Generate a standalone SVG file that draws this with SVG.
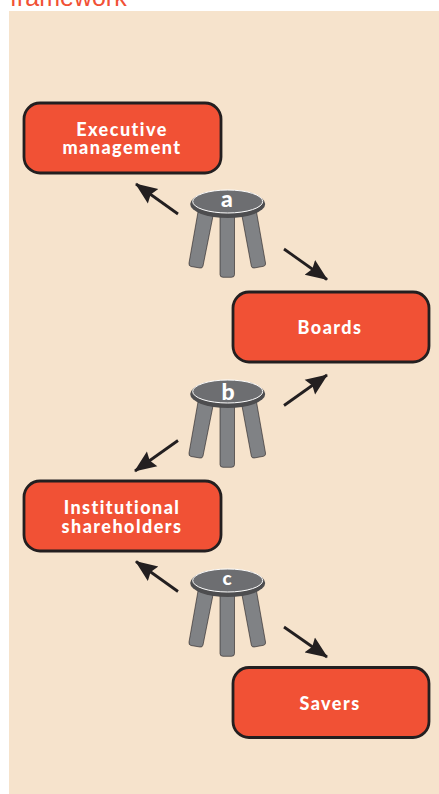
<svg xmlns="http://www.w3.org/2000/svg" width="439" height="794" viewBox="0 0 439 794">
<style>
.box{fill:#f15135;stroke:#231f20;stroke-width:2.8}
.lbl{font-family:Lato,"Noto Sans",sans-serif;font-weight:900;font-size:18px;fill:#fff;text-anchor:middle;letter-spacing:1.45px}
.ltr{font-family:Lato,"Noto Sans",sans-serif;font-weight:900;fill:#fff;text-anchor:middle;font-size:23px}
.leg{fill:#808285;stroke:#231f20;stroke-width:.6;stroke-linejoin:round}
.arr{stroke:#231f20;stroke-width:2.8;fill:none;marker-end:url(#ah)}
</style>
<defs>
<marker id="ah" viewBox="0 0 22 20" refX="21" refY="10" markerUnits="userSpaceOnUse" markerWidth="22" markerHeight="20" orient="auto"><path d="M0 1L22 10L0 19L3 10Z" fill="#231f20"/></marker>
<g id="stool">
<path class="leg" d="M198 212L213 216L203 266Q202.500 268.500 200 268L191 266.500Q188.500 266 189 263Z"/>
<path class="leg" d="M242 216L256.500 212L265.500 263Q266 265.800 263.500 266.300L254 268Q251.800 268.300 251.300 266Z"/>
<path class="leg" d="M220 214H234.500V274.500Q234.500 277.300 231.500 277.300H223Q220 277.300 220 274.500Z"/>
<ellipse cx="227.700" cy="204" rx="37.500" ry="14" fill="#4d4d4f"/>
<ellipse cx="227.700" cy="201.500" rx="35" ry="11.500" fill="#6d6e71" stroke="#fff" stroke-width="1"/>
</g>
</defs>
<rect width="439" height="794" fill="#fff"/>
<rect x="9" y="11" width="430" height="783" fill="#f6e3cc"/>
<text x="10" y="6" font-family="'Liberation Sans',Arial,sans-serif" font-size="25" fill="#f15135">framework</text>
<g id="connectors">
<path class="arr" d="M178 214L136 184"/>
<path class="arr" d="M284 249L327 279.500"/>
<path class="arr" d="M284 405.500L327 375"/>
<path class="arr" d="M178 440.500L135 471"/>
<path class="arr" d="M178 591.500L136 561.500"/>
<path class="arr" d="M284 627L327 657"/>
</g>
<g id="executive"><rect class="box" x="24" y="103" width="197" height="70" rx="16"/><text class="lbl" x="122" y="136">Executive</text><text class="lbl" x="122" y="154">management</text></g>
<g id="boards"><rect class="box" x="233" y="292" width="196" height="70" rx="16"/><text class="lbl" x="330" y="333.500">Boards</text></g>
<g id="institutional"><rect class="box" x="24" y="481" width="197" height="70" rx="16"/><text class="lbl" x="122" y="514">Institutional</text><text class="lbl" x="122" y="533">shareholders</text></g>
<g id="savers"><rect class="box" x="233" y="667.500" width="196" height="70" rx="16"/><text class="lbl" x="330" y="710">Savers</text></g>
<g id="stool-a"><use href="#stool"/><text class="ltr" x="227" y="207">a</text></g>
<g id="stool-b"><use href="#stool" y="190"/><text class="ltr" x="228" y="400">b</text></g>
<g id="stool-c"><use href="#stool" y="379"/><text class="ltr" x="227" y="585" style="font-size:19px">c</text></g>
</svg>
